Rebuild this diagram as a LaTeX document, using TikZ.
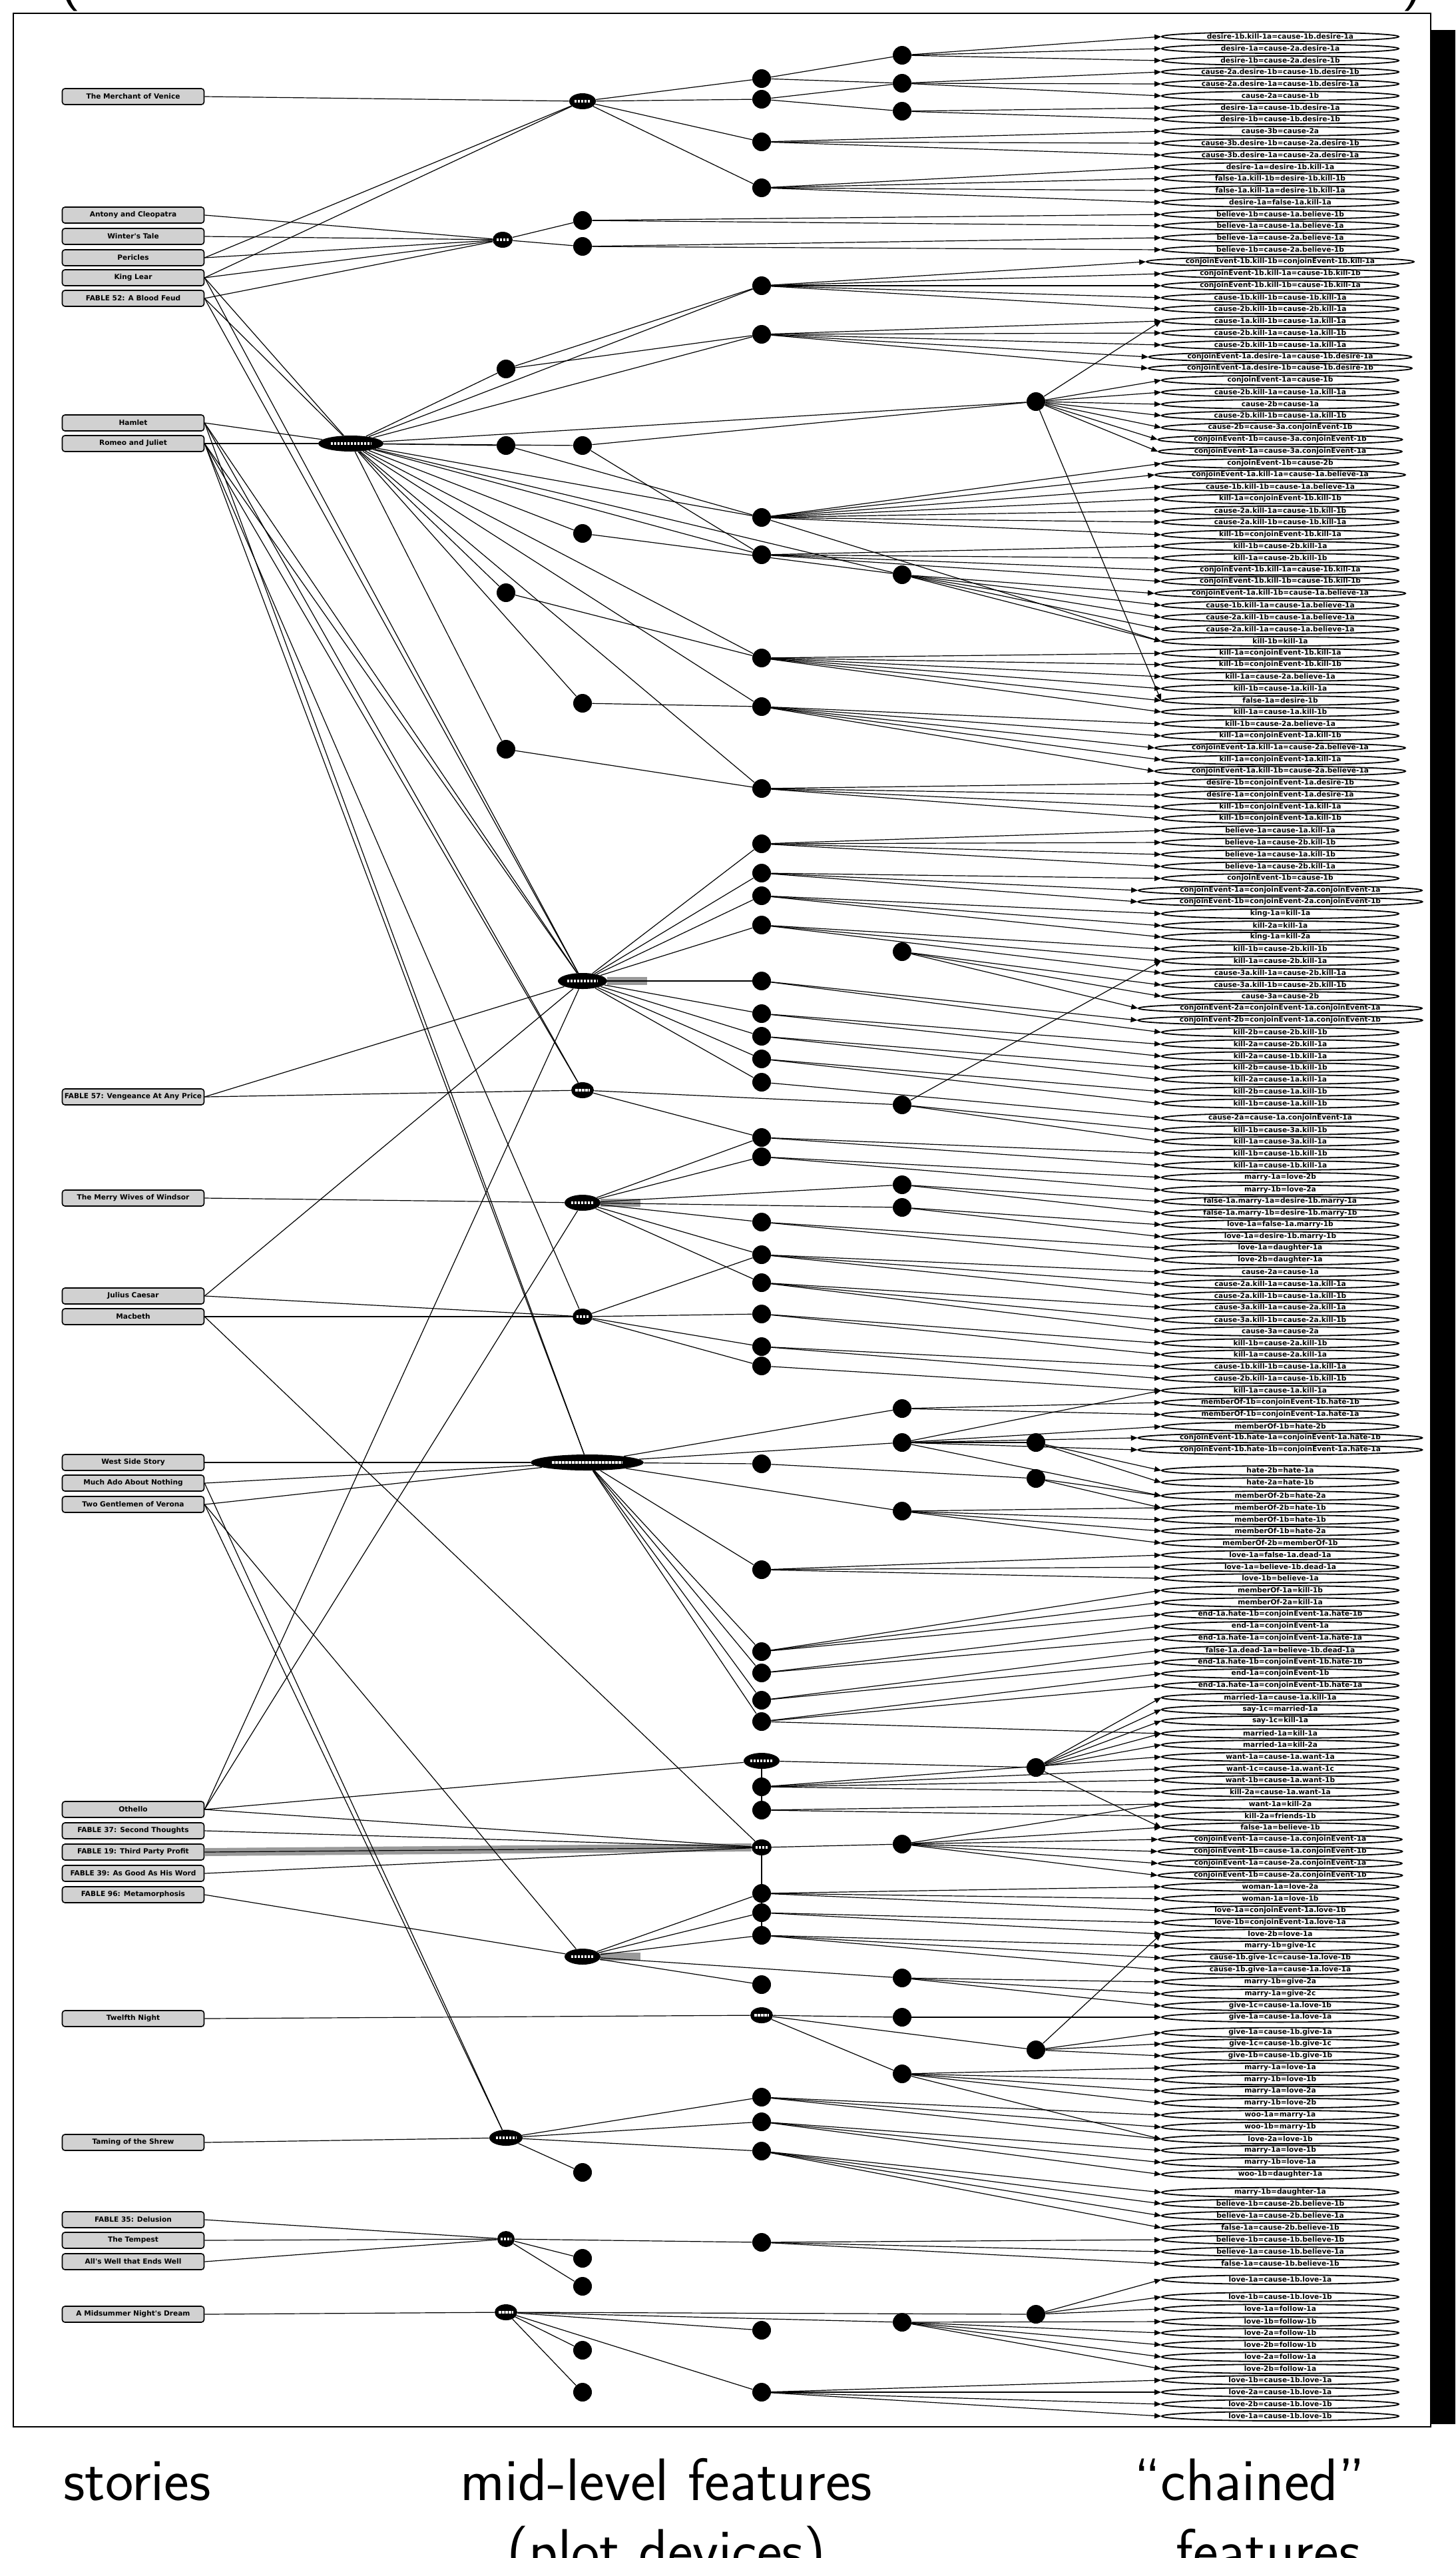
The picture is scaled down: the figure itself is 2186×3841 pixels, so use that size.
\documentclass[tikz,border=0pt]{standalone}
\usepackage{fontspec}
\newfontfamily\dvs{DejaVu Sans}
\usetikzlibrary{shapes.geometric,arrows.meta}
\begin{document}
\begin{tikzpicture}[x=0.5pt,y=-0.5pt,
  story/.style={draw,line width=0.8pt,rounded corners=2pt,fill=black!18,minimum width=106.5pt,minimum height=12pt,inner sep=0pt,font=\dvs\bfseries\fontsize{5.3}{6}\selectfont},
  feat/.style={draw,ellipse,line width=0.9pt,minimum width=178pt,minimum height=7pt,inner sep=0pt,font=\dvs\bfseries\fontsize{5.3}{6}\selectfont},
  dot/.style={circle,fill=black,minimum size=14pt,inner sep=0pt},
  dev/.style={ellipse,fill=black,minimum height=12pt,inner sep=0pt},
  ln/.style={line width=0.6pt},
  arr/.style={line width=0.6pt,-{Triangle[length=5pt,width=4pt]}},
  band/.style={line width=6pt,black!40},
  big/.style={font=\sffamily\fontsize{45}{54}\selectfont,anchor=base,inner sep=0pt},
]
\useasboundingbox (0,0) rectangle (2186,3841);
\fill[white] (0,0) rectangle (2186,3841);
% frame
\fill[black] (2149,45) rectangle (2186,3640);
\draw[line width=1.2pt] (20,20) rectangle (2149,3644);
\node[big] (paren1) at (105,-6) {(};
\node[big] (paren2) at (2122,-6) {)};
% stories
\foreach \n/\y/\lab in {1/145/The Merchant of Venice,2/323/Antony and Cleopatra,3/355/Winter's Tale,4/387/Pericles,5/417/King Lear,6/448/FABLE  52: A Blood Feud,7/635/Hamlet,8/666/Romeo and Juliet,9/1647/FABLE  57: Vengeance At Any Price,10/1799/The Merry Wives of Windsor,11/1946/Julius Caesar,12/1977/Macbeth,13/2196/West Side Story,14/2227/Much Ado About Nothing,15/2259/Two Gentlemen of Verona,16/2717/Othello,17/2749/FABLE  37: Second Thoughts,18/2781/FABLE  19: Third Party Profit,19/2813/FABLE  39: As Good As His Word,20/2845/FABLE  96: Metamorphosis,21/3031/Twelfth Night,22/3217/Taming of the Shrew,23/3333/FABLE  35: Delusion,24/3364/The Tempest,25/3396/All's Well that Ends Well,26/3475/A Midsummer Night's Dream}
  \node[story] (s\n) at (200,\y) {\lab};
% devices
\foreach \n/\x/\y/\w in {1/875/152/20,2/755/360/15,3/527/666/49,4/875/1473/37,5/875/1637/17,6/875/1806/27,7/875/1977/15,8/882/2196/85,9/1144/2644/27,10/1144/2774/15,11/875/2938/27,12/1144/3026/17,13/760/3210/25,14/760/3362/13,15/760/3472/17}
  {\node[dev,minimum width=\w pt] (p\n) at (\x,\y) {};
   \draw[white,line width=2.2pt,dash pattern=on 1.6pt off 0.9pt] (\x-0.62*\w,\y) -- (\x+0.62*\w,\y);}
% gray multi-edge bands
\draw[band] (p4.east) -- ++(60,0);
\draw[band] (p6.east) -- ++(60,0);
\draw[band] (p11.east) -- ++(60,0);
\draw[band] (s18.east) -- (p10.west);
% circles
\foreach \n/\x/\y in {1/1144/118,2/1144/149,3/1355/83,4/1355/125,5/1355/167,6/1144/213,7/1144/282,8/875/331,9/875/370,10/1144/429,11/1144/502,12/760/554,14/1556/603,15/760/669,16/875/669,17/1144/777,18/875/801,19/1144/833,20/1355/863,21/760/890,22/1144/988,23/875/1056,24/1144/1061,25/760/1125,26/1144/1184,27/1144/1267,28/1144/1311,29/1144/1345,30/1144/1389,31/1355/1429,32/1144/1473,33/1144/1522,34/1144/1556,35/1144/1590,36/1144/1625,37/1355/1659,38/1144/1708,39/1144/1737,40/1355/1779,41/1355/1813,42/1144/1835,43/1144/1884,44/1144/1926,45/1144/1973,46/1144/2022,47/1144/2051,48/1355/2115,49/1355/2166,50/1556/2166,51/1144/2198,52/1556/2220,53/1355/2269,54/1144/2357,55/1144/2480,57/1144/2512,58/1144/2553,59/1144/2585,60/1556/2654,61/1144/2683,62/1144/2718,63/1355/2769,64/1144/2843,65/1144/2872,66/1144/2906,67/1355/2970,68/1144/2980,69/1355/3029,70/1556/3078,71/1355/3114,72/1144/3149,73/1144/3186,74/1144/3230,75/875/3262,76/1144/3367,77/875/3391,78/875/3433,80/1355/3487,81/1556/3475,82/1144/3499,83/875/3529,84/875/3592,85/1144/3592}
  \node[dot] (c\n) at (\x,\y) {};
% features
\foreach \n/\y/\lab in {1/55/desire-1b.kill-1a=cause-1b.desire-1a,2/73/desire-1a=cause-2a.desire-1a,3/91/desire-1b=cause-2a.desire-1b,4/108/cause-2a.desire-1b=cause-1b.desire-1b,5/126/cause-2a.desire-1a=cause-1b.desire-1a,6/144/cause-2a=cause-1b,7/162/desire-1a=cause-1b.desire-1a,8/179/desire-1b=cause-1b.desire-1b,9/197/cause-3b=cause-2a,10/215/cause-3b.desire-1b=cause-2a.desire-1b,11/233/cause-3b.desire-1a=cause-2a.desire-1a,12/251/desire-1a=desire-1b.kill-1a,13/268/false-1a.kill-1b=desire-1b.kill-1b,14/286/false-1a.kill-1a=desire-1b.kill-1a,15/304/desire-1a=false-1a.kill-1a,16/322/believe-1b=cause-1a.believe-1b,17/339/believe-1a=cause-1a.believe-1a,18/357/believe-1a=cause-2a.believe-1a,19/375/believe-1b=cause-2a.believe-1b,20/393/conjoinEvent-1b.kill-1b=conjoinEvent-1b.kill-1a,21/411/conjoinEvent-1b.kill-1a=cause-1b.kill-1b,22/429/conjoinEvent-1b.kill-1b=cause-1b.kill-1a,23/447/cause-1b.kill-1b=cause-1b.kill-1a,24/464/cause-2b.kill-1b=cause-2b.kill-1a,25/482/cause-1a.kill-1b=cause-1a.kill-1a,26/500/cause-2b.kill-1a=cause-1a.kill-1b,27/518/cause-2b.kill-1b=cause-1a.kill-1a,28/536/conjoinEvent-1a.desire-1a=cause-1b.desire-1a,29/553/conjoinEvent-1a.desire-1b=cause-1b.desire-1b,30/571/conjoinEvent-1a=cause-1b,31/589/cause-2b.kill-1a=cause-1a.kill-1a,32/607/cause-2b=cause-1a,33/624/cause-2b.kill-1b=cause-1a.kill-1b,34/642/cause-2b=cause-3a.conjoinEvent-1b,35/660/conjoinEvent-1b=cause-3a.conjoinEvent-1b,36/678/conjoinEvent-1a=cause-3a.conjoinEvent-1a,37/696/conjoinEvent-1b=cause-2b,38/713/conjoinEvent-1a.kill-1a=cause-1a.believe-1a,39/731/cause-1b.kill-1b=cause-1a.believe-1a,40/749/kill-1a=conjoinEvent-1b.kill-1b,41/767/cause-2a.kill-1a=cause-1b.kill-1b,42/784/cause-2a.kill-1b=cause-1b.kill-1a,43/803/kill-1b=conjoinEvent-1b.kill-1a,44/820/kill-1b=cause-2b.kill-1a,45/838/kill-1a=cause-2b.kill-1b,46/856/conjoinEvent-1b.kill-1a=cause-1b.kill-1a,47/873/conjoinEvent-1b.kill-1b=cause-1b.kill-1b,48/891/conjoinEvent-1a.kill-1b=cause-1a.believe-1a,49/909/cause-1b.kill-1a=cause-1a.believe-1a,50/927/cause-2a.kill-1b=cause-1a.believe-1a,51/945/cause-2a.kill-1a=cause-1a.believe-1a,52/963/kill-1b=kill-1a,53/981/kill-1a=conjoinEvent-1b.kill-1a,54/998/kill-1b=conjoinEvent-1b.kill-1b,55/1016/kill-1a=cause-2a.believe-1a,56/1034/kill-1b=cause-1a.kill-1a,57/1052/false-1a=desire-1b,58/1069/kill-1a=cause-1a.kill-1b,59/1087/kill-1b=cause-2a.believe-1a,60/1105/kill-1a=conjoinEvent-1a.kill-1b,61/1123/conjoinEvent-1a.kill-1a=cause-2a.believe-1a,62/1141/kill-1a=conjoinEvent-1a.kill-1a,63/1158/conjoinEvent-1a.kill-1b=cause-2a.believe-1a,64/1176/desire-1b=conjoinEvent-1a.desire-1b,65/1194/desire-1a=conjoinEvent-1a.desire-1a,66/1212/kill-1b=conjoinEvent-1a.kill-1a,67/1229/kill-1b=conjoinEvent-1a.kill-1b,68/1247/believe-1a=cause-1a.kill-1a,69/1265/believe-1a=cause-2b.kill-1b,70/1283/believe-1a=cause-1a.kill-1b,71/1301/believe-1a=cause-2b.kill-1a,72/1319/conjoinEvent-1b=cause-1b,73/1337/conjoinEvent-1a=conjoinEvent-2a.conjoinEvent-1a,74/1354/conjoinEvent-1b=conjoinEvent-2a.conjoinEvent-1b,75/1372/king-1a=kill-1a,76/1390/kill-2a=kill-1a,77/1407/king-1a=kill-2a,78/1425/kill-1b=cause-2b.kill-1b,79/1443/kill-1a=cause-2b.kill-1a,80/1461/cause-3a.kill-1a=cause-2b.kill-1a,81/1479/cause-3a.kill-1b=cause-2b.kill-1b,82/1496/cause-3a=cause-2b,83/1514/conjoinEvent-2a=conjoinEvent-1a.conjoinEvent-1a,84/1532/conjoinEvent-2b=conjoinEvent-1a.conjoinEvent-1b,85/1550/kill-2b=cause-2b.kill-1b,86/1568/kill-2a=cause-2b.kill-1a,87/1586/kill-2a=cause-1b.kill-1a,88/1603/kill-2b=cause-1b.kill-1b,89/1621/kill-2a=cause-1a.kill-1a,90/1639/kill-2b=cause-1a.kill-1b,91/1657/kill-1b=cause-1a.kill-1b,92/1679/cause-2a=cause-1a.conjoinEvent-1a,93/1697/kill-1b=cause-3a.kill-1b,94/1714/kill-1a=cause-3a.kill-1a,95/1732/kill-1b=cause-1b.kill-1b,96/1750/kill-1a=cause-1b.kill-1a,97/1768/marry-1a=love-2b,98/1787/marry-1b=love-2a,99/1804/false-1a.marry-1a=desire-1b.marry-1a,100/1822/false-1a.marry-1b=desire-1b.marry-1b,101/1839/love-1a=false-1a.marry-1b,102/1857/love-1a=desire-1b.marry-1b,103/1874/love-1a=daughter-1a,104/1892/love-2b=daughter-1a,105/1910/cause-2a=cause-1a,106/1928/cause-2a.kill-1a=cause-1a.kill-1a,107/1946/cause-2a.kill-1b=cause-1a.kill-1b,108/1963/cause-3a.kill-1a=cause-2a.kill-1a,109/1982/cause-3a.kill-1b=cause-2a.kill-1b,110/1999/cause-3a=cause-2a,111/2017/kill-1b=cause-2a.kill-1b,112/2034/kill-1a=cause-2a.kill-1a,113/2052/cause-1b.kill-1b=cause-1a.kill-1a,114/2070/cause-2b.kill-1a=cause-1b.kill-1b,115/2088/kill-1a=cause-1a.kill-1a,116/2106/memberOf-1b=conjoinEvent-1b.hate-1b,117/2124/memberOf-1b=conjoinEvent-1a.hate-1a,118/2142/memberOf-1b=hate-2b,119/2159/conjoinEvent-1b.hate-1a=conjoinEvent-1a.hate-1b,120/2177/conjoinEvent-1b.hate-1b=conjoinEvent-1a.hate-1a,121/2208/hate-2b=hate-1a,122/2226/hate-2a=hate-1b,123/2246/memberOf-2b=hate-2a,124/2264/memberOf-2b=hate-1b,125/2282/memberOf-1b=hate-1b,126/2299/memberOf-1b=hate-2a,127/2317/memberOf-2b=memberOf-1b,128/2335/love-1a=false-1a.dead-1a,129/2353/love-1a=believe-1b.dead-1a,130/2370/love-1b=believe-1a,131/2388/memberOf-1a=kill-1b,132/2406/memberOf-2a=kill-1a,133/2424/end-1a.hate-1b=conjoinEvent-1a.hate-1b,134/2442/end-1a=conjoinEvent-1a,135/2460/end-1a.hate-1a=conjoinEvent-1a.hate-1a,136/2478/false-1a.dead-1a=believe-1b.dead-1a,137/2496/end-1a.hate-1b=conjoinEvent-1b.hate-1b,138/2513/end-1a=conjoinEvent-1b,139/2531/end-1a.hate-1a=conjoinEvent-1b.hate-1a,140/2549/married-1a=cause-1a.kill-1a,141/2567/say-1c=married-1a,142/2584/say-1c=kill-1a,143/2603/married-1a=kill-1a,144/2620/married-1a=kill-2a,145/2638/want-1a=cause-1a.want-1a,146/2656/want-1c=cause-1a.want-1c,147/2673/want-1b=cause-1a.want-1b,148/2691/kill-2a=cause-1a.want-1a,149/2709/want-1a=kill-2a,150/2727/kill-2a=friends-1b,151/2744/false-1a=believe-1b,152/2762/conjoinEvent-1a=cause-1a.conjoinEvent-1a,153/2780/conjoinEvent-1b=cause-1a.conjoinEvent-1b,154/2798/conjoinEvent-1a=cause-2a.conjoinEvent-1a,155/2816/conjoinEvent-1b=cause-2a.conjoinEvent-1b,156/2833/woman-1a=love-2a,157/2851/woman-1a=love-1b,158/2869/love-1a=conjoinEvent-1a.love-1b,159/2887/love-1b=conjoinEvent-1a.love-1a,160/2904/love-2b=love-1a,161/2922/marry-1b=give-1c,162/2940/cause-1b.give-1c=cause-1a.love-1b,163/2958/cause-1b.give-1a=cause-1a.love-1a,164/2976/marry-1b=give-2a,165/2994/marry-1a=give-2c,166/3012/give-1c=cause-1a.love-1b,167/3029/give-1a=cause-1a.love-1a,168/3052/give-1a=cause-1b.give-1a,169/3069/give-1c=cause-1b.give-1c,170/3087/give-1b=cause-1b.give-1b,171/3105/marry-1a=love-1a,172/3123/marry-1b=love-1b,173/3140/marry-1a=love-2a,174/3158/marry-1b=love-2b,175/3176/woo-1a=marry-1a,176/3194/woo-1b=marry-1b,177/3212/love-2a=love-1b,178/3229/marry-1a=love-1b,179/3247/marry-1b=love-1a,180/3265/woo-1b=daughter-1a,181/3292/marry-1b=daughter-1a,182/3309/believe-1b=cause-2b.believe-1b,183/3327/believe-1a=cause-2b.believe-1a,184/3345/false-1a=cause-2b.believe-1b,185/3363/believe-1b=cause-1b.believe-1b,186/3381/believe-1a=cause-1b.believe-1a,187/3399/false-1a=cause-1b.believe-1b,188/3423/love-1a=cause-1b.love-1a,189/3449/love-1b=cause-1b.love-1b,190/3467/love-1a=follow-1a,191/3486/love-1b=follow-1b,192/3503/love-2a=follow-1b,193/3521/love-2b=follow-1b,194/3539/love-2a=follow-1a,195/3557/love-2b=follow-1a,196/3574/love-1b=cause-1b.love-1a,197/3592/love-2a=cause-1b.love-1a,198/3610/love-2b=cause-1b.love-1b,199/3628/love-1a=cause-1b.love-1b}
  \node[feat] (f\n) at (1923,\y) {\lab};
% story -> device
\foreach \a/\b in {1/1,2/2,3/2,4/2,5/2,6/2,5/1,4/1,5/3,6/3,7/3,8/3,5/4,6/4,7/4,8/4,9/4,9/5,8/5,7/5,10/6,11/7,12/7,11/4,8/7,13/8,14/8,15/8,8/8,7/8,16/9,16/10,17/10,18/10,19/10,20/11,21/12,22/13,23/14,24/14,25/14,26/15,14/13,15/11,16/4,16/6,12/10,15/13}
  \draw[ln] (s\a.east) -- (p\b);
% device -> circle
\foreach \a/\b in {1/1,1/2,1/6,1/7,2/8,2/9,3/12,3/15,3/16,3/21,3/25,3/10,3/11,3/17,3/19,3/22,3/24,3/26,3/18,3/23,3/14,3/20,4/27,4/28,4/29,4/30,4/32,4/33,4/34,4/35,4/36,5/37,5/38,6/38,6/39,6/40,6/41,6/42,6/43,6/44,7/43,7/45,7/46,7/47,8/48,8/49,8/51,8/53,8/54,8/55,8/57,8/58,8/59,9/60,9/61,9/62,10/63,10/64,10/65,10/66,11/64,11/65,11/66,11/67,11/68,12/69,12/70,12/71,13/72,13/73,13/74,13/75,14/76,14/77,14/78,15/80,15/81,15/82,15/83,15/84,15/85}
  \draw[ln] (p\a) -- (c\b);
\foreach \a/\b in {1/3,1/4,2/4,2/5,12/10,12/11,15/17,16/19,21/22,25/26,49/50,51/52,23/24,18/20,16/14}
  \draw[ln] (c\a) -- (c\b);
% circle -> feature
\foreach \c/\f in {3/1,3/2,3/3,4/4,4/5,4/6,5/7,5/8,6/9,6/10,6/11,7/12,7/13,7/14,7/15,8/16,8/17,9/18,9/19,10/20,10/21,10/22,10/23,10/24,11/25,11/26,11/27,11/28,11/29,14/30,14/31,14/32,14/33,14/34,14/35,14/36,17/37,17/38,17/39,17/40,17/41,17/42,17/43,19/44,19/45,19/46,19/47,20/48,20/49,20/50,20/51,20/52,22/53,22/54,22/55,22/56,22/57,22/58,24/59,24/60,24/61,24/62,24/63,26/64,26/65,26/66,26/67,27/68,27/69,27/70,27/71,28/72,28/73,28/74,29/75,29/76,29/77,30/78,30/79,30/80,31/81,31/82,31/83,32/84,32/85,33/86,33/87,34/88,34/89,35/90,35/91,36/92,37/93,37/94,38/95,38/96,39/97,39/98,40/99,40/100,41/101,41/102,42/103,42/104,43/105,43/106,43/107,44/108,44/109,44/110,45/111,45/112,46/113,46/114,47/115,48/116,48/117,49/118,49/119,49/120,50/121,50/122,52/123,52/124,53/125,53/126,53/127,54/128,54/129,54/130,55/131,55/132,55/133,57/134,57/135,58/136,58/137,59/138,59/139,60/140,60/141,60/142,60/143,60/144,61/145,61/146,61/147,61/148,62/149,62/150,63/151,63/152,63/153,63/154,63/155,64/156,64/157,64/158,65/159,65/160,66/161,66/162,66/163,67/164,67/165,67/166,69/167,70/168,70/169,70/170,71/171,71/172,71/173,71/174,72/175,72/176,72/177,73/178,73/179,73/180,74/181,74/182,74/183,74/184,76/185,76/186,76/187,81/188,81/189,81/190,80/191,80/192,80/193,80/194,80/195,85/196,85/197,85/198,85/199,14/25,17/52,14/57,37/79,49/115,49/123,53/124,59/143,63/149,60/151,70/160,71/177}
  \draw[arr] (c\c) -- (f\f.west);
% bottom labels
\node[big] (t1) at (206,3754) {stories};
\node[big] (t2) at (1001,3754) {mid-level features};
\node[big] (t3) at (1001,3860) {(plot devices)};
\node[big] (t4) at (1877,3754) {``chained''};
\node[big] (t5) at (1905,3860) {features};
\end{tikzpicture}
\end{document}
